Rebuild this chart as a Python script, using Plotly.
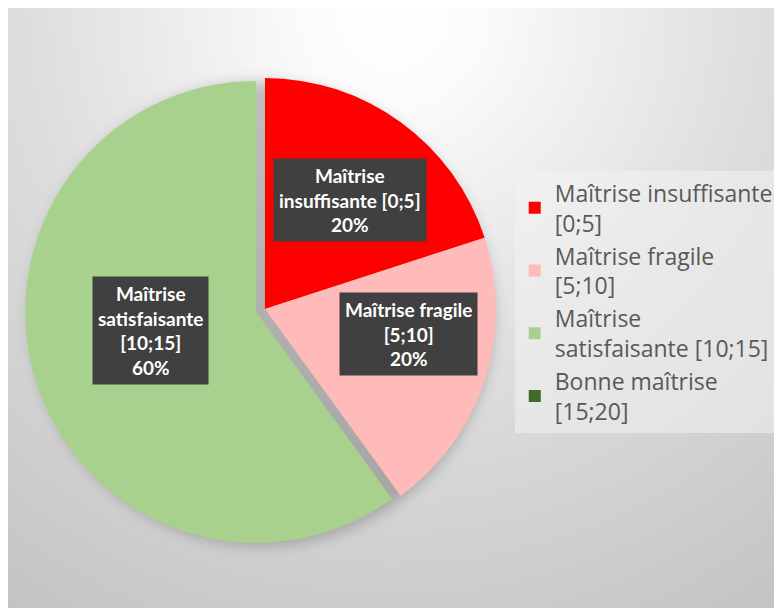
import base64
import math
import plotly.graph_objects as go

# ---------------- data ----------------
categories = [
    "Maîtrise insuffisante [0;5]",
    "Maîtrise fragile [5;10]",
    "Maîtrise satisfaisante [10;15]",
    "Bonne maîtrise [15;20]",
]
legend_text = [
    "Maîtrise insuffisante<br>[0;5]",
    "Maîtrise fragile<br>[5;10]",
    "Maîtrise<br>satisfaisante [10;15]",
    "Bonne maîtrise<br>[15;20]",
]
label_text = [
    "Maîtrise<br>insuffisante [0;5]",
    "Maîtrise fragile<br>[5;10]",
    "Maîtrise<br>satisfaisante<br>[10;15]",
    "Bonne maîtrise<br>[15;20]",
]
values = [20, 20, 60, 0]

# ---------------- style ----------------
colors = ["#FF0000", "#FFBABA", "#A9D18E", "#43682B"]
pulls = [0, 0, 0.04, 0]
label_radius = [0.60, 0.63, 0.465, 0.6]
label_angle_shift = [2, -8, 8, 0]

W, H = 782, 608
dom_x = [0.0214, 0.6358]
dom_y = [0.1098, 0.9000]

# pie geometry as plotly computes it
max_pull = max(pulls)
cx = W * (dom_x[0] + dom_x[1]) / 2
cy = H * (1 - (dom_y[0] + dom_y[1]) / 2)
r = min(W * (dom_x[1] - dom_x[0]), H * (dom_y[1] - dom_y[0])) / (2 + 2 * max_pull)

# ---------------- background (gradient + pie shadow) ----------------
svg = f"""<svg xmlns='http://www.w3.org/2000/svg' width='{W}' height='{H}' viewBox='0 0 {W} {H}'>
<defs>
<radialGradient id='g' gradientUnits='userSpaceOnUse' cx='385' cy='8' r='720'>
<stop offset='0' stop-color='#ffffff'/>
<stop offset='0.12' stop-color='#fbfbfb'/>
<stop offset='0.5' stop-color='#dedede'/>
<stop offset='1' stop-color='#c2c2c2'/>
</radialGradient>
<filter id='b' x='-20%' y='-20%' width='140%' height='140%'><feGaussianBlur stdDeviation='7'/></filter>
</defs>
<rect x='0' y='0' width='{W}' height='{H}' fill='url(#g)'/>
<circle cx='{cx - 3:.1f}' cy='{cy + 5:.1f}' r='{r + 1:.1f}' fill='#000000' fill-opacity='0.22' filter='url(#b)'/>
</svg>"""
bg_src = "data:image/svg+xml;base64," + base64.b64encode(svg.encode("utf-8")).decode("ascii")

fig = go.Figure()
fig.add_trace(go.Pie(
    labels=legend_text,
    values=values,
    marker=dict(colors=colors, line=dict(width=0)),
    pull=pulls,
    sort=False,
    direction="clockwise",
    rotation=0,
    textinfo="none",
    hoverinfo="label+percent",
    domain=dict(x=dom_x, y=dom_y),
    showlegend=True,
))

# ---------------- data labels (boxed), positioned from values ----------------
total = sum(values)
cum = 0
annotations = []
for i, v in enumerate(values):
    if v <= 0:
        cum += v
        continue
    mid = 360.0 * (cum + v / 2) / total
    cum += v
    a = math.radians(mid)
    ox = cx + pulls[i] * r * math.sin(a)
    oy = cy - pulls[i] * r * math.cos(a)
    b = math.radians(mid + label_angle_shift[i])
    px = ox + label_radius[i] * r * math.sin(b)
    py = oy - label_radius[i] * r * math.cos(b)
    pct = round(100 * v / total)
    annotations.append(dict(
        x=px / W, y=1 - py / H, xref="paper", yref="paper",
        xanchor="center", yanchor="middle",
        text=f"{label_text[i]}<br>{pct}%",
        showarrow=False,
        font=dict(family="Lato", size=19, color="#FFFFFF", weight="bold"),
        bgcolor="#404040",
        borderpad=5,
        align="center",
    ))

fig.update_layout(
    width=W, height=H,
    margin=dict(l=0, r=0, t=0, b=0),
    paper_bgcolor="#ffffff",
    plot_bgcolor="rgba(0,0,0,0)",
    images=[dict(source=bg_src, xref="paper", yref="paper", x=0, y=1,
                 sizex=1, sizey=1, xanchor="left", yanchor="top",
                 sizing="stretch", layer="below")],
    annotations=annotations,
    legend=dict(
        x=0.648, xanchor="left", y=0.516, yanchor="middle",
        font=dict(family="Open Sans", size=23, color="#595959"),
        bgcolor="rgba(242,242,242,0.55)",
        borderwidth=0,
        traceorder="normal",
    ),
    showlegend=True,
)

fig.write_html("out.html")
